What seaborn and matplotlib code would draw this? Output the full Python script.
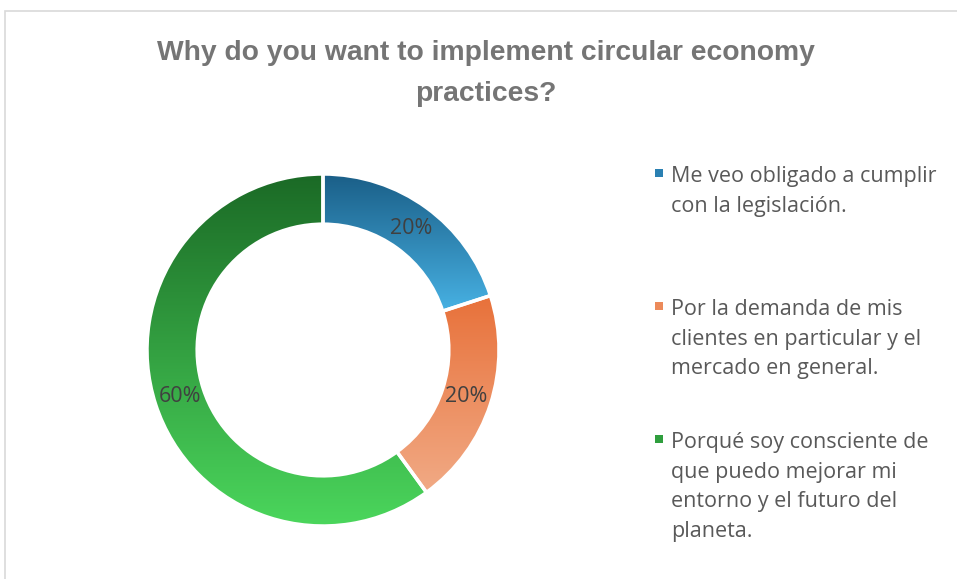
import matplotlib
matplotlib.use("Agg")
import matplotlib.pyplot as plt
import matplotlib.patches as mpatches
from matplotlib.colors import LinearSegmentedColormap
import numpy as np
import seaborn as sns

# data
categories = [
    "Me veo obligado a cumplir\ncon la legislación.",
    "Por la demanda de mis\nclientes en particular y el\nmercado en general.",
    "Porqué soy consciente de\nque puedo mejorar mi\nentorno y el futuro del\nplaneta.",
]
shares = [20, 20, 60]
title = "Why do you want to implement circular economy\npractices?"

# gradient colours (top, bottom) per slice
grad_top = ["#1a5e87", "#e8713a", "#1b6a26"]
grad_bottom = ["#47b1e3", "#f1aa85", "#4bd65c"]
legend_colors = ["#2a80b2", "#ec8a5a", "#2f9e3d"]

sns.set_theme(style="white")
plt.rcParams["font.family"] = ["Open Sans", "DejaVu Sans"]

W, H = 957, 579
fig = plt.figure(figsize=(W / 100, H / 100), dpi=100)
fig.patch.set_facecolor("white")

# chart frame (cropped at right/bottom)
fig.add_artist(mpatches.Rectangle((5 / W, -0.1), 1.2, 1 - 11 / H + 0.1,
                                  transform=fig.transFigure, fill=False,
                                  edgecolor="#d9d9d9", lw=1.2))

cx, cy, r = 323, 350, 176
ax = fig.add_axes([(cx - r) / W, 1 - (cy + r) / H, 2 * r / W, 2 * r / H])
wedges, texts, autotexts = ax.pie(
    shares, startangle=90, counterclock=False, radius=1,
    autopct=lambda p: f"{p:.0f}%", pctdistance=0.855,
    wedgeprops=dict(width=0.285, edgecolor="white", linewidth=2.5),
    textprops=dict(color="#404040", fontsize=15.5),
)
ax.set_xlim(-1, 1)
ax.set_ylim(-1, 1)
ax.set_aspect("equal")
ax.axis("off")

for w, top, bot in zip(wedges, grad_top, grad_bottom):
    ext = w.get_path().get_extents(w.get_patch_transform())
    cmap = LinearSegmentedColormap.from_list("g", [top, bot])
    grad = np.linspace(0, 1, 256).reshape(-1, 1)
    im = ax.imshow(grad, cmap=cmap, aspect="auto",
                   extent=[ext.x0, ext.x1, ext.y0, ext.y1], zorder=1)
    im.set_clip_path(w)
    w.set_facecolor("none")
    w.set_zorder(2)
for t in autotexts:
    t.set_zorder(3)
ax.set_xlim(-1, 1)
ax.set_ylim(-1, 1)

fig.text(486 / W, 1 - 74 / H, title, ha="center", va="center",
         fontsize=20.3, fontweight="bold", color="#757575",
         family=["Liberation Sans", "DejaVu Sans"],
         linespacing=1.75)

# legend
starts = [173, 306, 439]
for lab, col, y0 in zip(categories, legend_colors, starts):
    fig.add_artist(mpatches.Rectangle((655 / W, 1 - (y0 + 4) / H), 8 / W, 8 / H,
                                      transform=fig.transFigure,
                                      facecolor=col, edgecolor="none"))
    fig.text(671 / W, 1 - (y0 - 7) / H, lab, ha="left", va="top",
             fontsize=15.5, color="#595959", linespacing=1.54)

fig.savefig("out.png", dpi=100)
